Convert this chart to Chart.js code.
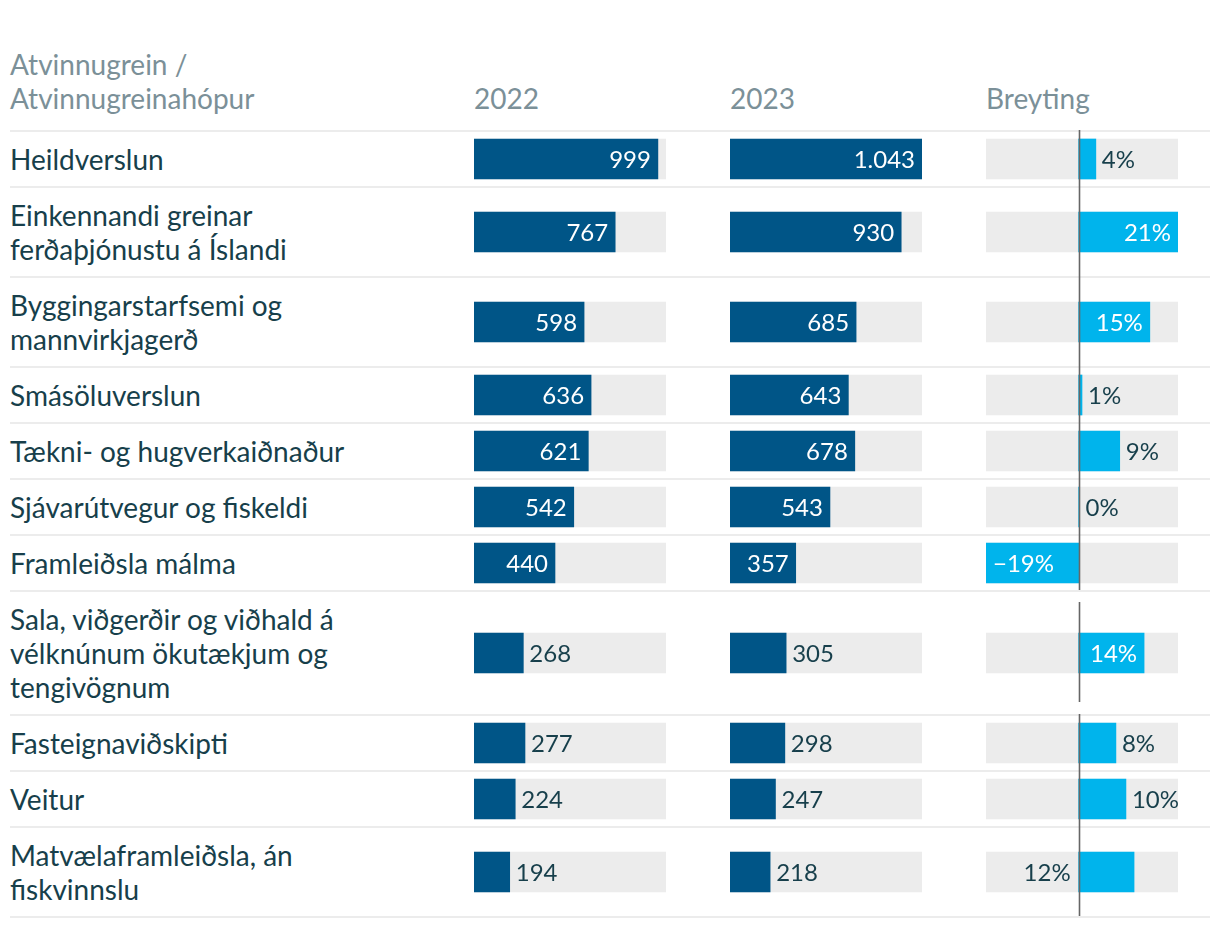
<!DOCTYPE html>
<html>
<head>
<meta charset="utf-8">
<script src="https://cdn.jsdelivr.net/npm/chart.js@4"></script>
<style>
  body { margin: 0; background: #fff; font-family: Lato, sans-serif; }
  #table { position: absolute; left: 10px; top: 49px; width: 1200px; }
  .head { position: relative; height: 81px; color: #7b9098; font-size: 28px; line-height: 34px; }
  .head div { position: absolute; }
  .row { position: relative; }
  .sep { position: absolute; left: 0; top: 0; width: 1200px; height: 2px; background: #ececec; }
  .label { position: absolute; left: 0; top: 12px; color: #173f4b; font-size: 28px; line-height: 34px; white-space: nowrap; }
  .row canvas { position: absolute; }
</style>
</head>
<body>
<div id="table"></div>
<script>
// Data
const categories = [
  ['Heildverslun'],
  ['Einkennandi greinar', 'ferðaþjónustu á Íslandi'],
  ['Byggingarstarfsemi og', 'mannvirkjagerð'],
  ['Smásöluverslun'],
  ['Tækni- og hugverkaiðnaður'],
  ['Sjávarútvegur og fiskeldi'],
  ['Framleiðsla málma'],
  ['Sala, viðgerðir og viðhald á', 'vélknúnum ökutækjum og', 'tengivögnum'],
  ['Fasteignaviðskipti'],
  ['Veitur'],
  ['Matvælaframleiðsla, án', 'fiskvinnslu']
];
const values2022 = [999, 767, 598, 636, 621, 542, 440, 268, 277, 224, 194];
const values2023 = [1043, 930, 685, 643, 678, 543, 357, 305, 298, 247, 218];
const changePct = [3.6, 20.8, 14.9, 0.7, 8.6, 0.2, -19.4, 13.7, 7.8, 9.9, 11.6];
const headerLabel = ['Atvinnugrein /', 'Atvinnugreinahópur'];
const columnTitles = ['2022', '2023', 'Breyting'];

const DARK = '#005587';
const LIGHT = '#00b4ec';
const TRACK = '#ececec';
const TEXT = '#173f4b';
const colX = [464, 720, 976];
const colW = 192;

const valueMax = Math.max(...values2022, ...values2023);
const pctMin = Math.min(...changePct);
const pctMax = Math.max(...changePct);

function fmtNumber(v) {
  return String(Math.round(v)).replace(/\B(?=(\d{3})+(?!\d))/g, '.');
}
function fmtPct(v) {
  const r = Math.round(v);
  return (r < 0 ? '\u2212' + Math.abs(r) : r) + '%';
}

// Draws the value label inside the bar, beside it, or across the zero line
const valueLabels = {
  id: 'valueLabels',
  afterDatasetsDraw(chart, args, opts) {
    const ctx = chart.ctx;
    const bar = chart.getDatasetMeta(0).data[0];
    const v = chart.data.datasets[0].data[0];
    const text = opts.format(v);
    const area = chart.chartArea;
    ctx.save();
    ctx.font = '24px Lato';
    ctx.textBaseline = 'middle';
    const tw = ctx.measureText(text).width;
    const w = Math.abs(bar.x - bar.base);
    const y = bar.y + 1;
    if (v >= 0) {
      if (w >= tw + 16) {
        ctx.fillStyle = '#fff'; ctx.textAlign = 'right';
        ctx.fillText(text, bar.x - 7, y);
      } else if (area.right - bar.x >= tw + 3) {
        ctx.fillStyle = TEXT; ctx.textAlign = 'left';
        ctx.fillText(text, bar.x + 6, y);
      } else {
        ctx.fillStyle = TEXT; ctx.textAlign = 'right';
        ctx.fillText(text, bar.base - 8, y);
      }
    } else {
      if (w >= tw + 16) {
        ctx.fillStyle = '#fff'; ctx.textAlign = 'left';
        ctx.fillText(text, bar.x + 7, y);
      } else {
        ctx.fillStyle = TEXT; ctx.textAlign = 'right';
        ctx.fillText(text, bar.x - 6, y);
      }
    }
    ctx.restore();
  }
};

// Vertical line at zero for the change column
const zeroLine = {
  id: 'zeroLine',
  afterDatasetsDraw(chart, args, opts) {
    if (!opts.show) return;
    const x = Math.round(chart.scales.x.getPixelForValue(0)) + 0.5;
    const ctx = chart.ctx;
    ctx.save();
    ctx.strokeStyle = '#666';
    ctx.lineWidth = 1.6;
    ctx.beginPath();
    ctx.moveTo(x, 0);
    ctx.lineTo(x, chart.height);
    ctx.stroke();
    ctx.restore();
  }
};

function makeCell(parent, left, top, h, value, min, max, color, format, showZero) {
  const c = document.createElement('canvas');
  c.width = colW; c.height = h;
  c.style.left = left + 'px'; c.style.top = top + 'px';
  c.style.width = colW + 'px'; c.style.height = h + 'px';
  parent.appendChild(c);
  new Chart(c, {
    type: 'bar',
    data: {
      labels: [''],
      datasets: [
        { data: [value], backgroundColor: color, barThickness: 40, grouped: false, order: 1 },
        { data: [[min, max]], backgroundColor: TRACK, barThickness: 40, grouped: false, order: 2 }
      ]
    },
    options: {
      indexAxis: 'y',
      responsive: false,
      animation: false,
      layout: { padding: { top: 2 } },
      plugins: {
        legend: { display: false },
        tooltip: { enabled: false },
        valueLabels: { format: format },
        zeroLine: { show: showZero }
      },
      scales: {
        x: { min: min, max: max, display: false },
        y: { display: false }
      }
    },
    plugins: [valueLabels, zeroLine]
  });
}

const table = document.getElementById('table');

const head = document.createElement('div');
head.className = 'head';
const hl = document.createElement('div');
hl.style.left = '0px'; hl.style.top = '-2px';
hl.innerHTML = headerLabel.join('<br>');
head.appendChild(hl);
columnTitles.forEach((t, i) => {
  const d = document.createElement('div');
  d.style.left = colX[i] + 'px'; d.style.top = '32px';
  d.textContent = t;
  head.appendChild(d);
});
table.appendChild(head);

categories.forEach((lines, i) => {
  const h = 22 + 34 * lines.length;
  const row = document.createElement('div');
  row.className = 'row';
  row.style.height = h + 'px';
  const sep = document.createElement('div');
  sep.className = 'sep';
  row.appendChild(sep);
  const lab = document.createElement('div');
  lab.className = 'label';
  lab.innerHTML = lines.join('<br>');
  row.appendChild(lab);
  const ch = Math.min(h, 100);
  const top = (h - ch) / 2;
  makeCell(row, colX[0], top, ch, values2022[i], 0, valueMax, DARK, fmtNumber, false);
  makeCell(row, colX[1], top, ch, values2023[i], 0, valueMax, DARK, fmtNumber, false);
  makeCell(row, colX[2], top, ch, changePct[i], pctMin, pctMax, LIGHT, fmtPct, true);
  table.appendChild(row);
});

const last = document.createElement('div');
last.className = 'sep';
last.style.position = 'relative';
table.appendChild(last);
</script>
</body>
</html>
